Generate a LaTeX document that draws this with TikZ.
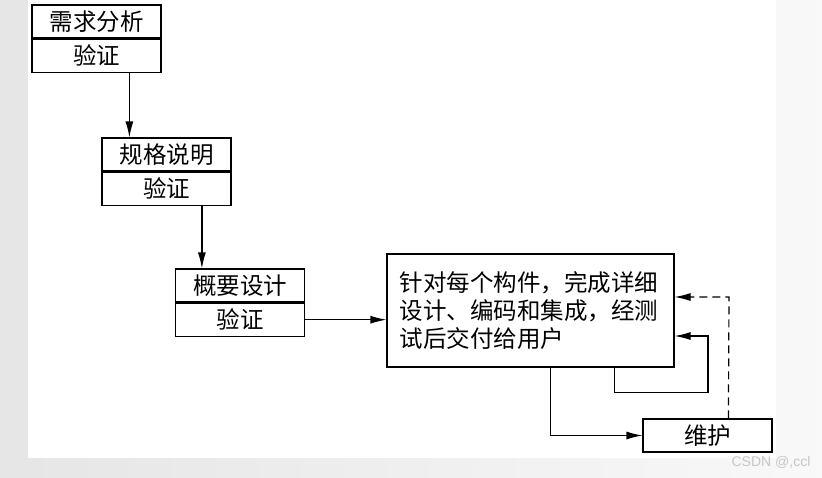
\documentclass[tikz,border=0pt]{standalone}
\usepackage{fontspec}
\setmainfont{Noto Sans CJK SC}
\setsansfont{Liberation Sans}
\usetikzlibrary{arrows.meta,positioning}
\tikzset{
  stage/.style={draw, line width=1.2pt, minimum width=129pt, minimum height=33pt, inner sep=0pt,
    font=\fontsize{23.5}{26}\selectfont},
  arr/.style={line width=1.2pt, -{Latex[length=16pt,width=8pt]}},
}
\begin{document}
\begin{tikzpicture}[x=1pt,y=-1pt]
    % page background
    \shade[left color=gray!20, right color=gray!5] (0,0) rectangle (822,477);
    \fill[white] (28,0) rectangle (776,458);
    \useasboundingbox (0,0) rectangle (822,477);

    % stages, each with its check
    \node[stage] (req) at (96.5,21.5) {需求分析};
    \node[stage, below=0pt of req] (reqchk) {验证};
    \node[stage] (spec) at (166.5,154.5) {规格说明};
    \node[stage, below=0pt of spec] (specchk) {验证};
    \node[stage] (pre) at (240,285.5) {概要设计};
    \node[stage, below=0pt of pre] (prechk) {验证};

    % per-component work
    \node[draw, line width=1.2pt, minimum width=287pt, minimum height=113pt, text width=262pt,
      align=left, inner sep=0pt, font=\fontsize{23.5}{28}\selectfont] (build) at (530.5,310.5)
      {针对每个构件，完成详细\\设计、编码和集成，经测\\试后交付给用户};
    \node[stage] (maint) at (707.5,435.5) {维护};

    % down the steps
    \coordinate (a1) at ([xshift=28pt]spec.north west);
    \coordinate (a2) at ([xshift=27pt]pre.north west);
    \draw[arr] (a1 |- reqchk.south) -- (a1);
    \draw[arr] (a2 |- specchk.south) -- (a2);
    \draw[arr] (prechk.east) -- (prechk.east -| build.west);

    % delivery and iteration
    \coordinate (d1) at ([xshift=164pt]build.south west);
    \draw[arr] (d1) |- (maint.west);
    \coordinate (l1) at ([xshift=228pt]build.south west);
    \coordinate (l2) at (708,336);
    \draw[arr] (l1) -- ++(0,25) -| (l2) -- (l2 -| build.east);
    \coordinate (m1) at ([xshift=86pt]maint.north west);
    \coordinate (m2) at (729,297);
    \draw[arr, dash pattern=on 8pt off 5pt] (m1) -- (m2) -- (m2 -| build.east);

    % watermark
    \node[text=gray!45, font=\sffamily\fontsize{14}{16}\selectfont] (mark) at (771,462) {CSDN @,ccl};
\end{tikzpicture}
\end{document}
